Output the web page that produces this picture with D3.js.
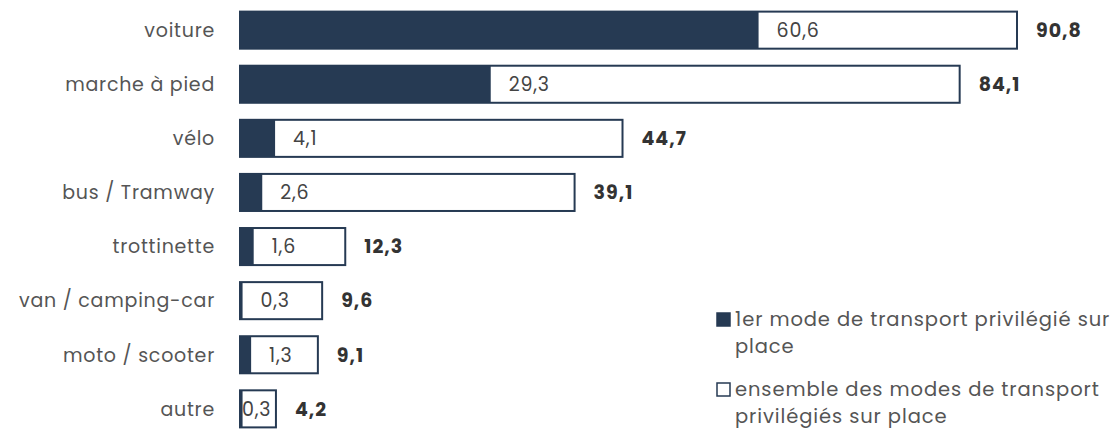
<!DOCTYPE html>
<html>
<head>
<meta charset="utf-8">
<script src="https://cdn.jsdelivr.net/npm/d3@7"></script>
<style>
  body { margin: 0; background: #fff; }
  text { font-family: 'Poppins', 'Open Sans', sans-serif; }
</style>
</head>
<body>
<div id="chart"></div>
<script>
// modes de transport
const categories = ['voiture', 'marche à pied', 'vélo', 'bus / Tramway', 'trottinette', 'van / camping-car', 'moto / scooter', 'autre']
// 1er mode de transport privilégié (%)
const premierMode = [60.6, 29.3, 4.1, 2.6, 1.6, 0.3, 1.3, 0.3]
// ensemble des modes privilégiés (%)
const ensemble = [90.8, 84.1, 44.7, 39.1, 12.3, 9.6, 9.1, 4.2]
const legendLabels = [
  ['1er mode de transport privilégié sur', 'place'],
  ['ensemble des modes de transport', 'privilégiés sur place']
]

const width = 1115
const height = 429
const dark = '#263a53'
const fmt = v => String(v).replace('.', ',')

const svg = d3.select('#chart')
  .append('svg')
  .attr('width', width)
  .attr('height', height)

const x = d3.scaleLinear()
  .domain([0, d3.max(ensemble)])
  .range([240, 1017])

const y = d3.scaleBand()
  .domain(categories)
  .range([3.5, 435.5])
  .paddingInner(0.315)
  .paddingOuter(0.15)

const rows = categories.map((c, i) => ({ cat: c, first: premierMode[i], total: ensemble[i] }))

const g = svg.append('g')
  .selectAll('g')
  .data(rows)
  .enter()
  .append('g')

// barre totale (contour)
g.append('rect')
  .attr('x', x(0))
  .attr('y', d => y(d.cat))
  .attr('width', d => x(d.total) - x(0))
  .attr('height', y.bandwidth())
  .style('fill', '#fff')
  .style('stroke', dark)
  .style('stroke-width', 2)

// 1er mode
g.append('rect')
  .attr('x', x(0))
  .attr('y', d => y(d.cat))
  .attr('width', d => x(d.first) - x(0))
  .attr('height', y.bandwidth())
  .style('fill', dark)

// libellés catégories
g.append('text')
  .attr('x', 215)
  .attr('y', d => y(d.cat) + y.bandwidth() / 2)
  .attr('dy', '0.36em')
  .attr('text-anchor', 'end')
  .style('font-size', '19px')
  .style('letter-spacing', '0.75px')
  .style('fill', '#555')
  .text(d => d.cat)

// valeur 1er mode
g.append('text')
  .attr('y', d => y(d.cat) + y.bandwidth() / 2)
  .attr('dy', '0.36em')
  .style('font-size', '19px')
  .style('letter-spacing', '0.8px')
  .style('fill', '#444')
  .text(d => fmt(d.first))
  .attr('x', function (d) {
    const w = this.getComputedTextLength()
    const pos = x(d.first) + 18
    return pos + w > x(d.total) - 4 ? x(0) + 2 : pos
  })

// valeur totale
g.append('text')
  .attr('x', d => x(d.total) + 19)
  .attr('y', d => y(d.cat) + y.bandwidth() / 2)
  .attr('dy', '0.36em')
  .style('font-size', '19px')
  .style('letter-spacing', '1px')
  .style('font-weight', 'bold')
  .style('fill', '#333')
  .text(d => fmt(d.total))

// légende
const legend = svg.append('g')
  .selectAll('g')
  .data(legendLabels)
  .enter()
  .append('g')
  .attr('transform', (d, i) => `translate(716, ${326 + i * 70})`)

legend.append('rect')
  .attr('x', 1)
  .attr('y', -13)
  .attr('width', 13)
  .attr('height', 13)
  .style('fill', (d, i) => i === 0 ? dark : '#fff')
  .style('stroke', dark)
  .style('stroke-width', 1.5)

legend.append('text')
  .style('font-size', '19.5px')
  .style('letter-spacing', '0.9px')
  .style('fill', '#555')
  .selectAll('tspan')
  .data(d => d)
  .enter()
  .append('tspan')
  .attr('x', 19)
  .attr('dy', (d, i) => i === 0 ? 0 : 27)
  .text(d => d)
</script>
</body>
</html>
